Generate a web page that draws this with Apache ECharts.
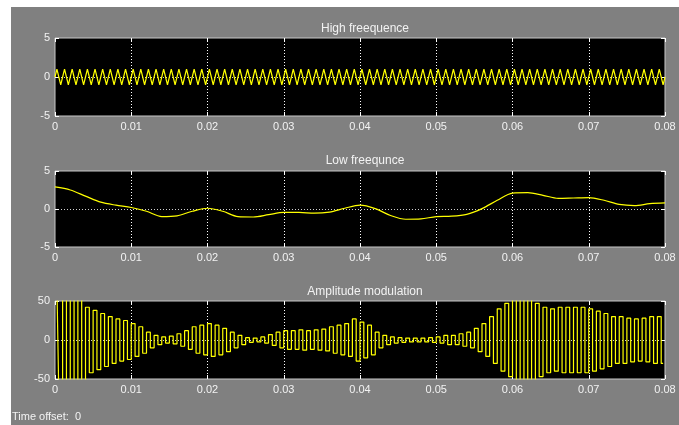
<!DOCTYPE html>
<html><head><meta charset="utf-8">
<script src="https://cdn.jsdelivr.net/npm/echarts@6/dist/echarts.min.js"></script>
<style>html,body{margin:0;padding:0;background:#fff}#c{width:679px;height:425px}</style>
</head><body><div id="c"></div>
<script>
// ---- data ----
const titles = ['High freequence', 'Low freequnce', 'Amplitude modulation'];
const timeMin = 0, timeMax = 0.08, timeTick = 0.01;
const yRanges = [[-5, 5, 5], [-5, 5, 5], [-50, 50, 50]];

// High frequency: samples every 0.25 ms (1 kHz wave, amplitude ~1)
const hfStep = 0.00025;
const hfValues = [
0,1,0,-1,0,1,0,-1,0,1,0,-1,0,1,0,-1,0,1,0,-1,0,1,0,-1,0,1,0,-1,0,1,0,-1,0,1,0,-1,0,1,0,-1,
0,1,0,-1,0,1,0,-1,0,1,0,-1,0,1,0,-1,0,1,0,-1,0,1,0,-1,0,1,0,-1,0,1,0,-1,0,1,0,-1,0,1,0,-1,
0,1,0,-1,0,1,0,-1,0,1,0,-1,0,1,0,-1,0,1,0,-1,0,1,0,-1,0,1,0,-1,0,1,0,-1,0,1,0,-1,0,1,0,-1,
0,1,0,-1,0,1,0,-1,0,1,0,-1,0,1,0,-1,0,1,0,-1,0,1,0,-1,0,1,0,-1,0,1,0,-1,0,1,0,-1,0,1,0,-1,
0,1,0,-1,0,1,0,-1,0,1,0,-1,0,1,0,-1,0,1,0,-1,0,1,0,-1,0,1,0,-1,0,1,0,-1,0,1,0,-1,0,1,0,-1,
0,1,0,-1,0,1,0,-1,0,1,0,-1,0,1,0,-1,0,1,0,-1,0,1,0,-1,0,1,0,-1,0,1,0,-1,0,1,0,-1,0,1,0,-1,
0,1,0,-1,0,1,0,-1,0,1,0,-1,0,1,0,-1,0,1,0,-1,0,1,0,-1,0,1,0,-1,0,1,0,-1,0,1,0,-1,0,1,0,-1,
0,1,0,-1,0,1,0,-1,0,1,0,-1,0,1,0,-1,0,1,0,-1,0,1,0,-1,0,1,0,-1,0,1,0,-1,0,1,0,-1,0,1,0,-1,
0];

// Low frequency: samples every 2 ms
const lfStep = 0.002;
const lfValues = [2.9, 2.5, 1.7, 0.9, 0.5, 0.2, -0.3, -1.0, -0.9, -0.3,
  0.1, -0.3, -1.0, -1.05, -0.75, -0.45, -0.45, -0.55, -0.4, 0.1,
  0.5, 0.05, -0.85, -1.35, -1.3, -1.0, -0.95, -0.7, 0.05, 1.15,
  2.1, 2.15, 1.8, 1.4, 1.45, 1.5, 1.15, 0.6, 0.45, 0.7, 0.8];

// Amplitude modulation: peak samples every 0.5 ms starting at 0.25 ms
const amStart = 0.00025, amStep = 0.0005;
const amValues = [
70,-70, 66,-66, 60,-60, 52,-52, 42,-42, 38,-38, 34,-34, 30,-30, 27,-27, 25,-25,
21,-21, 17,-17, 10,-10, 6,-6, 4,-4, 5,-5, 8,-8, 12,-12, 17,-17, 19,-19,
21,-21, 19,-19, 15,-15, 10,-10, 6,-6, 3,-3, 2.5,-2.5, 4,-4, 7,-7, 10,-10,
12,-12, 12,-12, 13,-13, 12,-12, 13,-13, 14,-14, 17,-17, 19,-19, 21,-21, 27,-27,
23,-23, 19,-19, 10,-10, 6,-6, 4,-4, 3,-3, 2.5,-2.5, 2.5,-2.5, 2.5,-2.5, 3,-3,
4,-4, 6,-6, 6,-6, 8,-8, 10,-10, 15,-15, 21,-21, 30,-30, 40,-40, 47,-47,
52,-52, 54,-54, 52,-52, 47,-47, 42,-42, 40,-40, 42,-42, 42,-42, 42,-42, 42,-42,
40,-40, 37,-37, 34,-34, 30,-30, 30,-30, 28,-28, 27,-27, 28,-28, 30,-30, 30,-30];

const offsetLabel = 'Time offset:  0';

// ---- build ----
const font = '"Liberation Sans", Arial, sans-serif';
const txt = '#f2f2f2';
const gridTops = [38, 171, 301];
const gridHeights = [78, 76, 78];
const titleTops = [18, 150, 281];

const pairs = [
  hfValues.map((v, i) => [i * hfStep, v]),
  lfValues.map((v, i) => [i * lfStep, v]),
  amValues.map((v, i) => [amStart + i * amStep, v])
];

const grid = [], xAxis = [], yAxis = [], series = [], title = [];
for (let i = 0; i < 3; i++) {
  grid.push({left: 55, top: gridTops[i], width: 610, height: gridHeights[i], show: true,
    backgroundColor: '#000', borderColor: '#c8c8c8', borderWidth: 1});
  const tick = {show: true, inside: true, length: 4, lineStyle: {color: '#fff', width: 1}};
  const noLine = {show: false, onZero: false};
  xAxis.push({type: 'value', gridIndex: i, min: timeMin, max: timeMax, interval: timeTick, position: 'bottom',
    axisLine: noLine, axisTick: tick,
    axisLabel: {color: txt, fontSize: 11, fontFamily: font, margin: 5,
      formatter: v => v === 0 ? '0' : String(+v.toFixed(2))},
    splitLine: {show: true, showMinLine: false, showMaxLine: false, lineStyle: {color: '#fff', type: [1, 2], width: 1}}});
  xAxis.push({type: 'value', gridIndex: i, min: timeMin, max: timeMax, interval: timeTick, position: 'top',
    axisLine: noLine, axisTick: tick, axisLabel: {show: false}, splitLine: {show: false}});
  const [mn, mx, iv] = yRanges[i];
  yAxis.push({type: 'value', gridIndex: i, min: mn, max: mx, interval: iv, position: 'left',
    axisLine: noLine, axisTick: tick,
    axisLabel: {color: txt, fontSize: 11, fontFamily: font, margin: 5},
    splitLine: {show: true, showMinLine: false, showMaxLine: false, lineStyle: {color: '#d0d0d0', type: [1, 2], width: 1}}});
  yAxis.push({type: 'value', gridIndex: i, min: mn, max: mx, interval: iv, position: 'right',
    axisLine: noLine, axisTick: tick, axisLabel: {show: false}, splitLine: {show: false}});
  series.push({type: 'line', xAxisIndex: 2 * i, yAxisIndex: 2 * i, data: pairs[i],
    showSymbol: false, symbol: 'none', clip: true,
    step: i === 2 ? 'middle' : false, smooth: i === 1 ? 0.3 : false,
    lineStyle: {color: '#ffff00', width: 1.2}, z: 5});
  title.push({text: titles[i], left: 360, top: titleTops[i], textAlign: 'center',
    textStyle: {color: txt, fontSize: 12, fontWeight: 'normal', fontFamily: font}});
}

const chart = echarts.init(document.getElementById('c'), null, {renderer: 'canvas'});
chart.setOption({
  backgroundColor: '#808080',
  animation: false,
  title, grid, xAxis, yAxis, series,
  graphic: [
    {type: 'rect', shape: {x: 0, y: 0, width: 679, height: 7}, style: {fill: '#fff'}, silent: true},
    {type: 'rect', shape: {x: 0, y: 0, width: 11, height: 425}, style: {fill: '#fff'}, silent: true},
    {type: 'text', left: 12, top: 411, style: {text: offsetLabel, fill: txt, font: '11px ' + font}}
  ]
});
</script></body></html>
